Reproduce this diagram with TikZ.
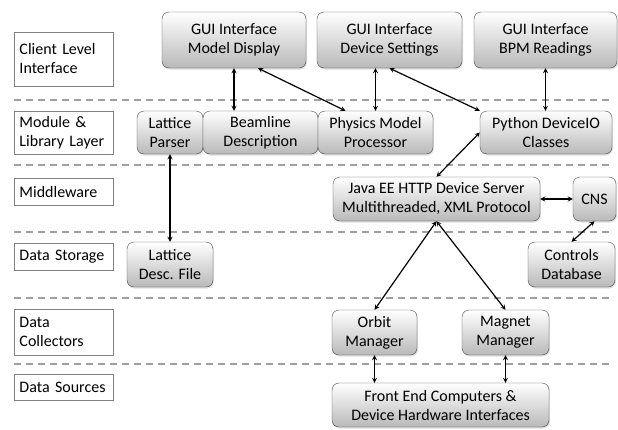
\documentclass[tikz,border=0pt]{standalone}
\usepackage{fontspec}
\setmainfont{Carlito}
\usetikzlibrary{arrows, shadows, shapes}
\definecolor{sepgray}{RGB}{160,160,160}
\definecolor{boxedge}{RGB}{70,70,70}
\tikzstyle{layer} = [rectangle, draw=gray, fill=white, thin, align=left, text width=88pt, inner xsep=5.5pt, minimum width=99pt]
\tikzstyle{block} = [rectangle, rounded corners=7pt, draw=boxedge, top color=white, bottom color=gray!55, align=center, inner sep=0pt, drop shadow={opacity=0.25, shadow xshift=1pt, shadow yshift=-1.5pt}]
\tikzstyle{arrow} = [line width=1.2pt,<->,>=stealth]
\tikzstyle{sep} = [sepgray, line width=1.3pt, dash pattern=on 7pt off 5pt]

\begin{document}
\begin{tikzpicture}[x=1pt, y=-1pt, every node/.style={font=\fontsize{16}{19}\selectfont}]
\useasboundingbox (0,0) rectangle (618,429);

% layer separators
\foreach \y in {100,165,232,298,364}
  \draw [sep] (14,\y) -- (612,\y);

% layer names
\node at (63.5,59) (client) [layer, minimum height=54pt] {Client Level\\Interface};
\node at (63.5,132.5) (module) [layer, minimum height=43pt] {Module \&\\Library Layer};
\node at (63.5,191.5) (middle) [layer, minimum height=27pt] {Middleware};
\node at (63.5,256.5) (storage) [layer, minimum height=27pt] {Data Storage};
\node at (63.5,332) (collect) [layer, minimum height=46pt] {Data\\Collectors};
\node at (63.5,387) (sources) [layer, minimum height=26pt] {Data Sources};

% client level
\node at (234,40) (guiModel) [block, minimum width=144pt, minimum height=56pt] {GUI Interface\\Model Display};
\node at (389.5,40) (guiDev) [block, minimum width=145pt, minimum height=56pt] {GUI Interface\\Device Settings};
\node at (545.5,40) (guiBpm) [block, minimum width=143pt, minimum height=56pt] {GUI Interface\\BPM Readings};

% modules
\node at (170,132.5) (latParser) [block, minimum width=66pt, minimum height=43pt] {Lattice\\Parser};
\node at (260.5,132.5) (beamline) [block, minimum width=115pt, minimum height=43pt] {Beamline\\Description};
\node at (375.5,132.5) (physics) [block, minimum width=115pt, minimum height=43pt] {Physics Model\\Processor};
\node at (546,132.5) (python) [block, minimum width=132pt, minimum height=43pt] {Python DeviceIO\\Classes};

% middleware
\node at (436.5,199) (java) [block, minimum width=207pt, minimum height=44pt] {Java EE HTTP Device Server\\Multithreaded, XML Protocol};
\node at (594.5,199) (cns) [block, minimum width=43pt, minimum height=44pt] {CNS};

% storage
\node at (170,264.5) (latFile) [block, minimum width=86pt, minimum height=45pt] {Lattice\\Desc. File};
\node at (571.5,264.5) (ctrlDb) [block, minimum width=87pt, minimum height=45pt] {Controls\\Database};

% collectors and sources
\node at (374.5,332.5) (orbit) [block, minimum width=85pt, minimum height=45pt] {Orbit\\Manager};
\node at (505.5,332.5) (magnet) [block, minimum width=87pt, minimum height=45pt] {Magnet\\Manager};
\node at (440.5,405) (frontEnd) [block, minimum width=217pt, minimum height=44pt] {Front End Computers \&\\Device Hardware Interfaces};

\draw [arrow] (guiModel.south) -- (guiModel.south |- beamline.north);
\draw [arrow] ([xshift=24pt]guiModel.south) -- ([xshift=-30pt]physics.north);
\draw [arrow] (physics.north |- guiDev.south) -- (physics.north);
\draw [arrow] (guiDev.south) -- (python.north west);
\draw [arrow] (guiBpm.south) -- (guiBpm.south |- python.north);
\draw [arrow] (latParser.south) -- (latFile.north);
\draw [arrow] (python.west) -- (java.north);
\draw [arrow] (java.east) -- (cns.west);
\draw [arrow] (cns.south) -- (ctrlDb.north);
\draw [arrow] (java.south) -- (orbit.north);
\draw [arrow] (java.south) -- (magnet.north);
\draw [arrow] (orbit.south) -- (orbit.south |- frontEnd.north);
\draw [arrow] (magnet.south) -- (magnet.south |- frontEnd.north);

\end{tikzpicture}
\end{document}
